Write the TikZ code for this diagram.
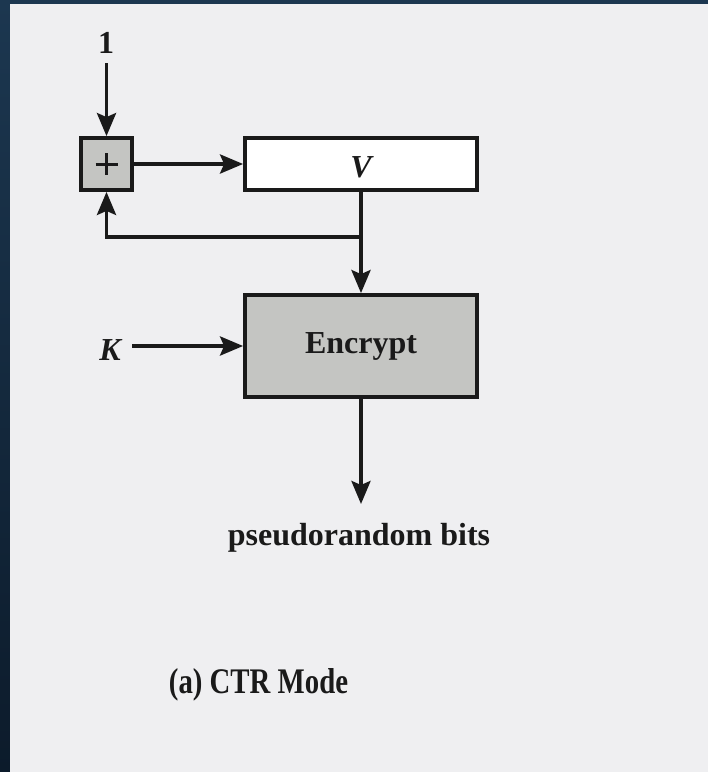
\documentclass[tikz,border=0pt]{standalone}
\usepackage{fontspec}
\setmainfont{Liberation Serif}
\usetikzlibrary{arrows.meta,calc}
\definecolor{bgdark}{HTML}{0C1B2B}
\definecolor{bgblue}{HTML}{1C3750}
\definecolor{paper}{HTML}{EFEFF1}
\definecolor{boxgrey}{HTML}{C4C5C2}
\definecolor{ink}{HTML}{1A1A1A}
\tikzset{
  blk/.style={draw=ink, line width=3.8pt, rectangle, inner sep=0pt},
  lbl/.style={text=ink, font=\fontsize{32}{38}\selectfont\bfseries, inner sep=0pt},
  conn/.style={draw=ink, line width=3.8pt},
  arr/.style={conn, -{Stealth[length=23pt, width=19pt, inset=4pt]}},
}
\begin{document}
\begin{tikzpicture}[x=1pt, y=-1pt]
\useasboundingbox (0,0) rectangle (708,772);
\shade[top color=bgblue, bottom color=bgdark] (0,0) rectangle (708,772);
\fill[paper] (10,4) rectangle (708,772);

\node[blk, fill=boxgrey, minimum width=51pt, minimum height=52pt] (plus) at (106.5,164) {};
\draw[ink, line width=3pt] ($(plus.center)+(-11,0)$) -- ($(plus.center)+(11,0)$);
\draw[ink, line width=3pt] ($(plus.center)+(0,-11)$) -- ($(plus.center)+(0,11)$);
\node[blk, fill=white, minimum width=232pt, minimum height=52pt] (V) at (361,164) {};
\node[lbl, anchor=base] (Vt) at (361,177) {\itshape V};
\node[blk, fill=boxgrey, minimum width=232pt, minimum height=102pt] (enc) at (361,346) {};
\node[lbl, anchor=base] (enct) at (361,353) {Encrypt};

\node[lbl, anchor=base] (one) at (106,53) {1};
\coordinate (onestart) at (106.5,63);
\node[lbl, anchor=base] (K) at (110,360) {\itshape K};
\coordinate (kstart) at (132,346);
\coordinate (branch) at (361,237);
\coordinate (corner) at (106.5,237);
\coordinate (outend) at (361,504);
\node[lbl, anchor=base] (pseudo) at (359,545) {pseudorandom bits};
\node[lbl, anchor=base, font=\fontsize{36}{40}\selectfont\bfseries, xscale=0.8] (cap) at (258.5,693) {(a) CTR Mode};

\draw[arr] (onestart) -- (plus.north);
\draw[arr] (plus.east) -- (V.west);
\draw[conn] (V.south) -- (branch);
\draw[arr] (branch) -- (enc.north);
\draw[arr] (branch) -- (corner) -- (plus.south);
\draw[arr] (kstart) -- (enc.west);
\draw[arr] (enc.south) -- (outend);
\end{tikzpicture}
\end{document}
